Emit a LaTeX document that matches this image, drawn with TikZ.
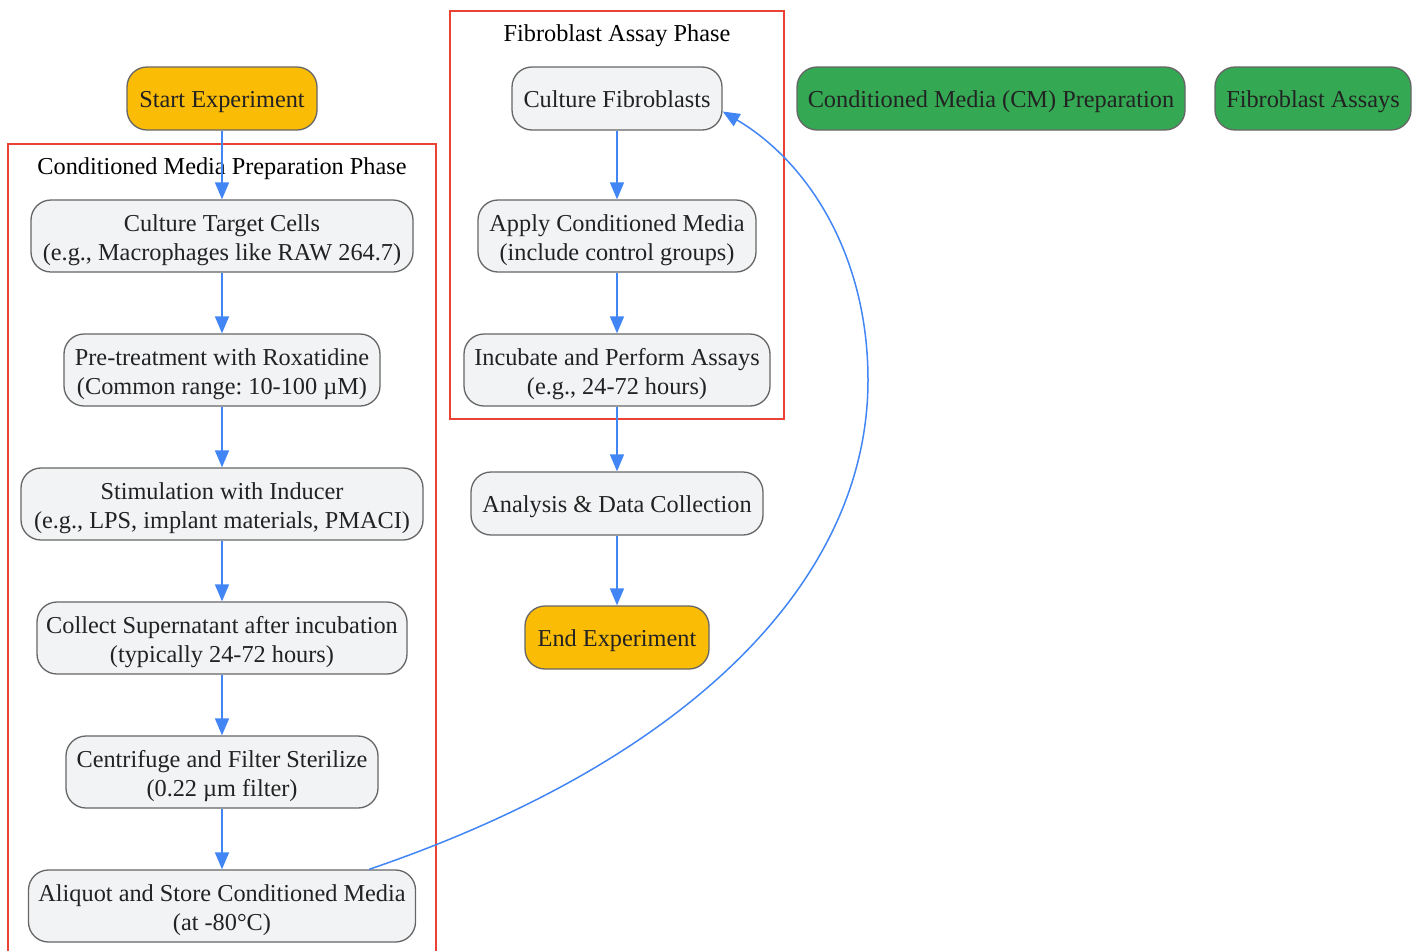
\documentclass[tikz,border=0pt]{standalone}
\usepackage{fontspec}
\setmainfont{Liberation Serif}
\usetikzlibrary{arrows.meta}
\definecolor{boxfill}{HTML}{F1F3F4}
\definecolor{boxline}{HTML}{666666}
\definecolor{txt}{HTML}{222222}
\definecolor{flow}{HTML}{4285F4}
\definecolor{clus}{HTML}{EA4335}
\definecolor{ylw}{HTML}{FBBC05}
\definecolor{grn}{HTML}{34A853}
\newcommand{\topstrut}{\rule{0pt}{24.5pt}}
\frenchspacing
\begin{document}
\begin{tikzpicture}[x=1pt,y=-1pt,
  box/.style={draw=boxline, line width=1.3pt, rounded corners=20pt, fill=boxfill,
    align=center, inner sep=0pt, text=txt, font=\fontsize{24.3}{29}\selectfont\frenchspacing},
  one/.style={box, minimum height=63pt, execute at begin node={\rule[-6pt]{0pt}{30pt}}},
  two/.style={box, minimum height=72pt},
  term/.style={one, fill=ylw},
  legend/.style={one, fill=grn},
  cluster/.style={draw=clus, line width=1.3pt},
  ctitle/.style={font=\fontsize{24.3}{29}\selectfont, text=black, inner sep=0pt},
  flowline/.style={draw=flow, line width=1.5pt, -{Triangle[length=17pt,width=14pt]}}
]
\useasboundingbox (0,0) rectangle (1421,951);

% clusters
\draw[cluster] (8,951) -- (8,144) -- (436,144) -- (436,951);
\node[ctitle] (t1) at (222,169) {Conditioned Media Preparation Phase};
\draw[cluster] (450,11) rectangle (784,419);
\node[ctitle] (t2) at (617,36) {Fibroblast Assay Phase};

% nodes
\node[term, minimum width=190pt] (start) at (222,98.5) {Start Experiment};
\node[two, minimum width=382pt] (ctc) at (222,236) {\topstrut Culture Target Cells\\(e.g., Macrophages like RAW 264.7)};
\node[two, minimum width=316pt] (pre) at (222,370) {\topstrut Pre-treatment with Roxatidine\\(Common range: 10-100 µM)};
\node[two, minimum width=402pt] (stim) at (222,504) {\topstrut Stimulation with Inducer\\(e.g., LPS, implant materials, PMACI)};
\node[two, minimum width=370pt] (coll) at (222,638) {\topstrut Collect Supernatant after incubation\\(typically 24-72 hours)};
\node[two, minimum width=312pt] (cent) at (222,772) {\topstrut Centrifuge and Filter Sterilize\\(0.22 µm filter)};
\node[two, minimum width=387pt] (aliq) at (222,906) {\topstrut Aliquot and Store Conditioned Media\\(at -80°C)};

\node[one, minimum width=210pt] (cf) at (617,98.5) {Culture Fibroblasts};
\node[two, minimum width=278pt] (apply) at (617,236) {\topstrut Apply Conditioned Media\\(include control groups)};
\node[two, minimum width=306pt] (incub) at (617,370) {\topstrut Incubate and Perform Assays\\(e.g., 24-72 hours)};
\node[one, minimum width=292pt] (anal) at (617,503.5) {Analysis \& Data Collection};
\node[term, minimum width=184pt] (end) at (617,637.5) {End Experiment};

\node[legend, minimum width=388pt] (lg1) at (991,98.5) {Conditioned Media (CM) Preparation};
\node[legend, minimum width=196pt] (lg2) at (1313,98.5) {Fibroblast Assays};

% connectors
\draw[flowline] (start) -- (ctc);
\draw[flowline] (ctc) -- (pre);
\draw[flowline] (pre) -- (stim);
\draw[flowline] (stim) -- (coll);
\draw[flowline] (coll) -- (cent);
\draw[flowline] (cent) -- (aliq);
\draw[flowline] (cf) -- (apply);
\draw[flowline] (apply) -- (incub);
\draw[flowline] (incub) -- (anal);
\draw[flowline] (anal) -- (end);
\draw[flowline] (aliq.14) .. controls (690,760) and (868,580) .. (868,380)
  .. controls (868,255) and (808,162) .. (cf.-7);
\end{tikzpicture}
\end{document}
